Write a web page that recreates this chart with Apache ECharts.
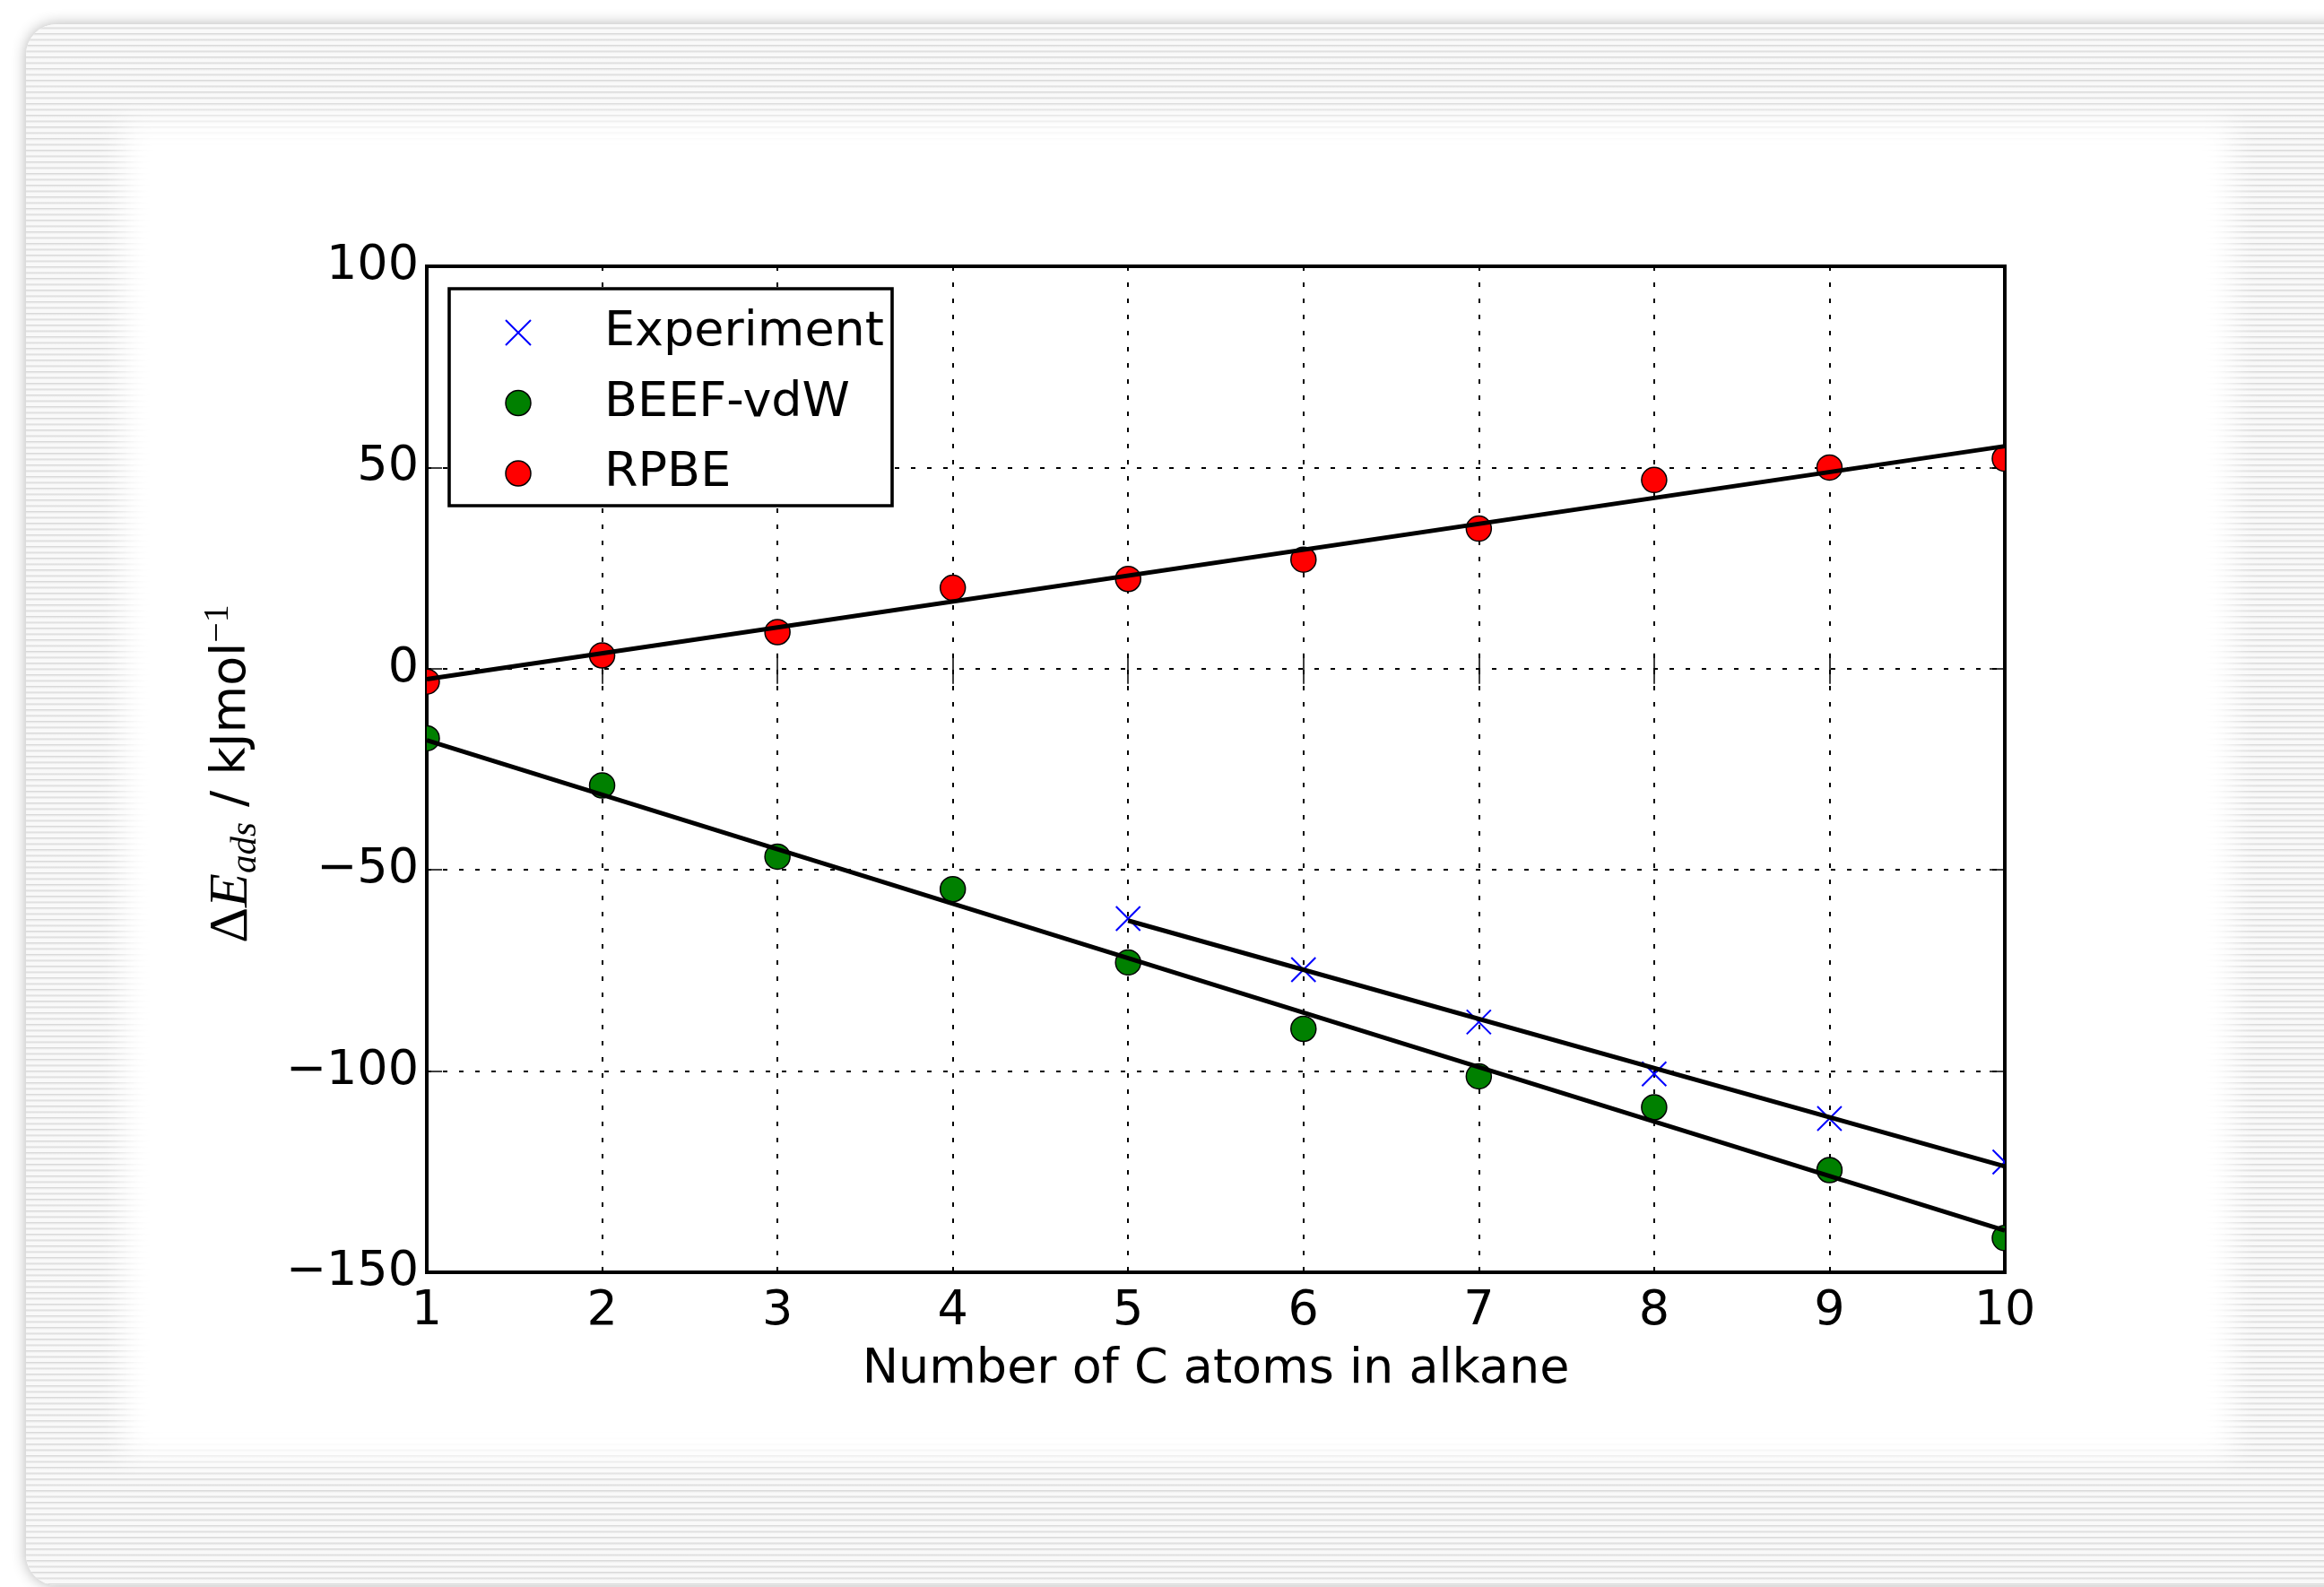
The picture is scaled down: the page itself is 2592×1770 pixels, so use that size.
<!DOCTYPE html>
<html>
<head>
<meta charset="utf-8">
<title>Alkane adsorption energies</title>
<script src="https://cdn.jsdelivr.net/npm/echarts@6/dist/echarts.min.js"></script>
<style>
  html, body { margin: 0; padding: 0; width: 2592px; height: 1770px; background: #fff; overflow: hidden; }
  /* striped paper card behind the figure */
  #paper {
    position: absolute; left: 29px; top: 27px; width: 2640px; height: 1741px;
    border-radius: 34px;
    box-shadow: 0 0 16px rgba(0, 0, 0, 0.3);
    background: repeating-linear-gradient(to bottom,
      #f9f9f9 0px, #f9f9f9 3px, #d9d9d9 4px, #e8e8e8 5px, #f9f9f9 6.5px);
  }
  /* soft white panel the plot sits on */
  #glow {
    position: absolute; left: 137px; top: 135px; width: 2353px; height: 1492px;
    background: #fff; filter: blur(16px);
  }
  #chart { position: absolute; left: 0; top: 0; width: 2592px; height: 1770px; }
</style>
</head>
<body>
<div id="paper"></div>
<div id="glow"></div>
<div id="chart"></div>
<script>
// Number of carbon atoms in the n-alkane
const carbonCount = [1, 2, 3, 4, 5, 6, 7, 8, 9, 10];
// Adsorption energies, kJ/mol
const rpbe = [-3.2, 3.3, 9.1, 20.1, 22.3, 27.1, 34.8, 46.9, 50.0, 52.2];
const beefVdw = [-17.3, -29.0, -46.7, -54.8, -73.0, -89.5, -101.3, -109.0, -124.6, -141.5];
const expCarbon = [5, 6, 7, 8, 9, 10];
const experiment = [-62.1, -74.8, -87.8, -100.7, -111.8, -122.6];

// Linear fits: end points of each fitted line
const fitRange = [1, 10];
const rpbeFit = [-2.6, 55.3];
const beefFit = [-17.8, -139.6];
const expFitRange = [5, 10];
const expFit = [-62.6, -123.7];

// Tick labels
const yTickValues = [-150, -100, -50, 0, 50, 100];
const yTickLabels = ['\u2212150', '\u2212100', '\u221250', '0', '50', '100'];

const zip = (xs, ys) => xs.map((x, i) => [x, ys[i]]);

const SANS = 'DejaVu Sans';
const SERIF = 'Liberation Serif';
const FS = 54;
const crossPath = 'path://M0,0L27,27M27,0L0,27';

const tickStyle = { show: true, inside: true, length: 17, lineStyle: { color: '#000', width: 1.5 } };
const gridLine = { show: true, showMinLine: false, showMaxLine: false, lineStyle: { color: '#000', width: 2, type: [5, 13] } };

// Markers drawn as custom shapes so that the plot frame clips them
function dotRenderer(fill) {
  return (params, api) => {
    const p = api.coord([api.value(0), api.value(1)]);
    return {
      type: 'circle',
      shape: { cx: p[0], cy: p[1], r: 14 },
      style: { fill: fill, stroke: '#000', lineWidth: 1.5 }
    };
  };
}
function crossRenderer(params, api) {
  const p = api.coord([api.value(0), api.value(1)]);
  const h = 13.5;
  const st = { stroke: '#0000ff', lineWidth: 2 };
  return {
    type: 'group',
    children: [
      { type: 'line', shape: { x1: p[0] - h, y1: p[1] - h, x2: p[0] + h, y2: p[1] + h }, style: st },
      { type: 'line', shape: { x1: p[0] - h, y1: p[1] + h, x2: p[0] + h, y2: p[1] - h }, style: st }
    ]
  };
}

const chart = echarts.init(document.getElementById('chart'), null, { renderer: 'canvas' });

chart.setOption({
  animation: false,
  backgroundColor: 'transparent',
  grid: {
    left: 476, top: 297, width: 1760, height: 1122,
    show: true, borderColor: '#000', borderWidth: 4, backgroundColor: 'transparent'
  },
  legend: {
    orient: 'vertical', left: 501, top: 322,
    selectedMode: false,
    backgroundColor: '#fff', borderColor: '#000', borderWidth: 3.6, borderRadius: 0,
    padding: [19, 9, 6, 62],
    itemWidth: 28, itemHeight: 28, itemGap: 18.5,
    textStyle: { fontFamily: SANS, fontSize: FS, color: '#000', lineHeight: 60, padding: [0, 0, 0, 77] },
    data: [
      { name: 'Experiment', icon: crossPath,
        itemStyle: { color: 'rgba(0,0,0,0)', borderWidth: 2, borderColor: '#0000ff' } },
      { name: 'BEEF-vdW', icon: 'circle',
        itemStyle: { color: '#008000', borderWidth: 1.5, borderColor: '#000' } },
      { name: 'RPBE', icon: 'circle',
        itemStyle: { color: '#ff0000', borderWidth: 1.5, borderColor: '#000' } }
    ]
  },
  xAxis: [
    {
      type: 'value', position: 'bottom', min: 1, max: 10, interval: 1,
      name: 'Number of C atoms in alkane', nameLocation: 'middle', nameGap: 76,
      nameTextStyle: { fontFamily: SANS, fontSize: FS, color: '#000', lineHeight: 60 },
      axisLine: { show: false },
      axisTick: tickStyle,
      axisLabel: { fontFamily: SANS, fontSize: FS, color: '#000', margin: 14, lineHeight: 60 },
      splitLine: gridLine
    },
    {
      type: 'value', position: 'top', min: 1, max: 10, interval: 1,
      axisLine: { show: false }, axisTick: tickStyle,
      axisLabel: { show: false }, splitLine: { show: false }
    }
  ],
  yAxis: [
    {
      type: 'value', position: 'left', min: -150, max: 100, interval: 50,
      name: '{d|\u0394}{e|E}{s|ads}{u| / kJmol}{p|\u22121}',
      nameLocation: 'middle', nameGap: 181, nameRotate: 90,
      nameTextStyle: {
        color: '#000',
        padding: [0, 10, 0, 0],
        rich: {
          d: { fontFamily: SERIF, fontSize: 62, lineHeight: 72, color: '#000' },
          e: { fontFamily: SERIF, fontStyle: 'italic', fontSize: 62, lineHeight: 72, color: '#000' },
          s: { fontFamily: SERIF, fontStyle: 'italic', fontSize: 41, lineHeight: 27, verticalAlign: 'bottom', color: '#000' },
          u: { fontFamily: SANS, fontSize: FS, lineHeight: 72, color: '#000' },
          p: { fontFamily: SERIF, fontSize: 40, lineHeight: 37, verticalAlign: 'top', color: '#000' }
        }
      },
      axisLine: { show: false },
      axisTick: tickStyle,
      axisLabel: {
        fontFamily: SANS, fontSize: FS, color: '#000', margin: 9, padding: [6, 0, 0, 0],
        formatter: v => yTickLabels[yTickValues.indexOf(v)]
      },
      splitLine: gridLine
    },
    {
      type: 'value', position: 'right', min: -150, max: 100, interval: 50,
      axisLine: { show: false }, axisTick: tickStyle,
      axisLabel: { show: false }, splitLine: { show: false }
    }
  ],
  series: [
    {
      name: 'Experiment', type: 'custom', z: 2, clip: true,
      encode: { x: 0, y: 1 },
      itemStyle: { color: '#0000ff' },
      renderItem: crossRenderer,
      data: zip(expCarbon, experiment)
    },
    {
      name: 'BEEF-vdW', type: 'custom', z: 2, clip: true,
      encode: { x: 0, y: 1 },
      itemStyle: { color: '#008000' },
      renderItem: dotRenderer('#008000'),
      data: zip(carbonCount, beefVdw)
    },
    {
      name: 'RPBE', type: 'custom', z: 2, clip: true,
      encode: { x: 0, y: 1 },
      itemStyle: { color: '#ff0000' },
      renderItem: dotRenderer('#ff0000'),
      data: zip(carbonCount, rpbe)
    },
    {
      name: 'RPBE fit', type: 'line', z: 3, clip: true, symbol: 'none',
      lineStyle: { color: '#000', width: 5 },
      data: zip(fitRange, rpbeFit)
    },
    {
      name: 'BEEF-vdW fit', type: 'line', z: 3, clip: true, symbol: 'none',
      lineStyle: { color: '#000', width: 5 },
      data: zip(fitRange, beefFit)
    },
    {
      name: 'Experiment fit', type: 'line', z: 3, clip: true, symbol: 'none',
      lineStyle: { color: '#000', width: 5 },
      data: zip(expFitRange, expFit)
    }
  ]
});
</script>
</body>
</html>
